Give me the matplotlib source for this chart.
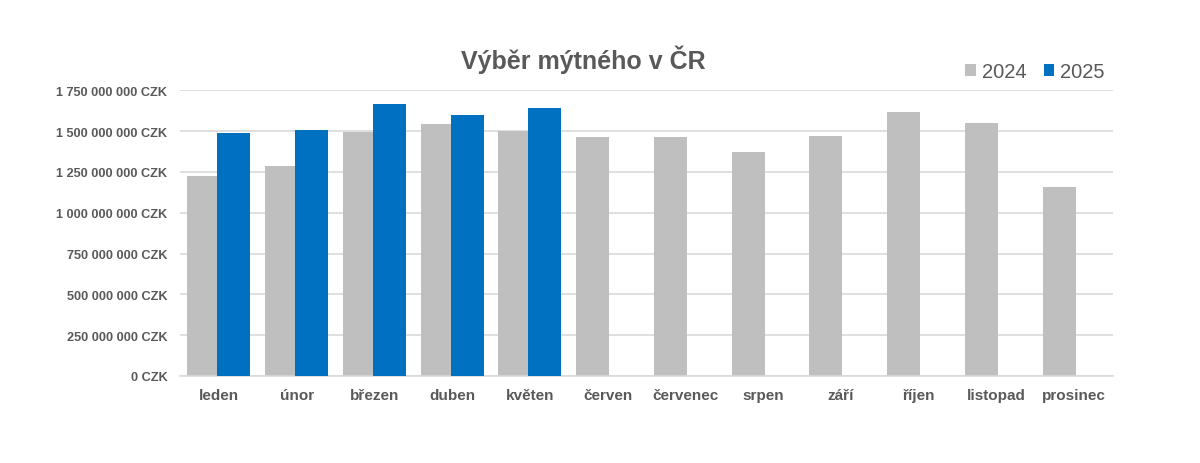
import numpy as np
import matplotlib
matplotlib.use("Agg")
import matplotlib.pyplot as plt
from matplotlib.ticker import FuncFormatter

plt.rcParams['font.family'] = ['Liberation Sans', 'DejaVu Sans']

# mesice a vyber mytneho (CZK)
mesice = ['leden', 'únor', 'březen', 'duben', 'květen', 'červen', 'červenec',
          'srpen', 'září', 'říjen', 'listopad', 'prosinec']
vyber_2024 = [1225e6, 1287e6, 1494e6, 1541e6, 1500e6, 1461e6, 1467e6,
              1373e6, 1471e6, 1615e6, 1547e6, 1158e6]
vyber_2025 = [1486e6, 1509e6, 1665e6, 1598e6, 1643e6]

SEDA = '#BFBFBF'
MODRA = '#0070C0'
TEXT = '#595959'


def format_czk(v, pos):
    return '{:,.0f} CZK'.format(v).replace(',', ' ')


fig = plt.figure(figsize=(12, 4.64), dpi=100)
ax = fig.add_axes([0.15, 0.1875, 0.7775, 0.6157])

x = np.arange(len(mesice))
sirka = 0.424
posun = 0.193

ax.bar(x - posun, vyber_2024, sirka, color=SEDA, label='2024', zorder=2)
ax.bar(x[:len(vyber_2025)] + posun, vyber_2025, sirka, color=MODRA,
       label='2025', zorder=3)

ax.set_xlim(-0.5, len(mesice) - 0.5)
ax.set_ylim(0, 1750e6)
ax.set_yticks(np.arange(0, 1750e6 + 1, 250e6))
ax.yaxis.set_major_formatter(FuncFormatter(format_czk))
ax.set_xticks(x)
ax.set_xticklabels(mesice)

for lbl in ax.get_yticklabels():
    lbl.set_fontsize(9.2)
    lbl.set_fontweight('bold')
    lbl.set_color(TEXT)
for lbl in ax.get_xticklabels():
    lbl.set_fontsize(11)
    lbl.set_fontweight('bold')
    lbl.set_color(TEXT)

ax.tick_params(axis='both', length=0)
ax.tick_params(axis='y', pad=9)
ax.tick_params(axis='x', pad=9)
ax.grid(axis='y', color='#D9D9D9', linewidth=1.2, zorder=0)
for s in ['top', 'right', 'left']:
    ax.spines[s].set_visible(False)
ax.spines['bottom'].set_color('#D9D9D9')
ax.spines['bottom'].set_linewidth(1.2)

fig.text(0.486, 0.872, 'Výběr mýtného v ČR', ha='center', va='center',
         fontsize=18, fontweight='bold', color=TEXT)

leg = ax.legend(loc='center right', bbox_to_anchor=(1.0, 1.066), ncol=2,
                frameon=False, fontsize=14.5, handlelength=0.5,
                handleheight=0.5, handletextpad=0.3, columnspacing=0.9,
                borderaxespad=0)
for t in leg.get_texts():
    t.set_color(TEXT)

fig.savefig('out.png', dpi=100)
